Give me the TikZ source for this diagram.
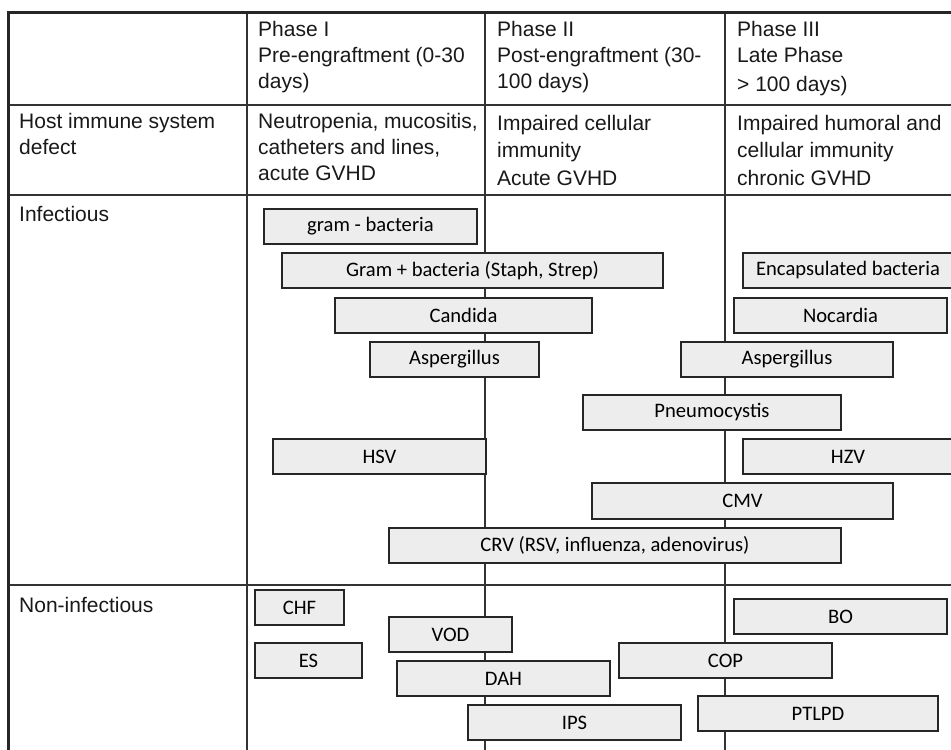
\documentclass[tikz,border=0pt]{standalone}
\usepackage{fontspec}
\setmainfont{Liberation Sans}
\newfontfamily\boxfont{Carlito}
\begin{document}
\begin{tikzpicture}[x=1pt,y=-1pt,
  grid/.style={line width=1.6pt,draw=black!80},
  frame/.style={line width=3pt,draw=black!85},
  cell/.style={anchor=base west,inner sep=0pt,font=\fontsize{21}{24}\selectfont,text=black!90},
  bar/.style={draw=black!85,line width=1.2pt,fill=black!7},
  bartext/.style={inner sep=0pt,font=\boxfont\fontsize{20.6}{23}\selectfont,text=black}]
\useasboundingbox (0,0) rectangle (951,750);
\fill[white] (0,0) rectangle (951,750);
% grid lines
\draw[grid] (8,105) -- (951,105);
\draw[grid] (8,195) -- (951,195);
\draw[grid] (8,585) -- (951,585);
\draw[grid] (247,12) -- (247,750);
\draw[grid] (485,12) -- (485,750);
\draw[grid] (725,12) -- (725,750);
\draw[frame] (8,752) -- (8,12) -- (953,12);
% header texts
\node[cell] (h1a) at (258,36) {Phase I};
\node[cell] (h1b) at (258,62) {Pre-engraftment (0-30};
\node[cell] (h1c) at (258,88) {days)};
\node[cell] (h2a) at (497,36) {Phase II};
\node[cell] (h2b) at (497,62) {Post-engraftment (30-};
\node[cell] (h2c) at (497,88) {100 days)};
\node[cell] (h3a) at (737,36) {Phase III};
\node[cell] (h3b) at (737,62) {Late Phase};
\node[cell] (h3c) at (737,91) {> 100 days)};
% row 2
\node[cell] (r2a) at (19,128) {Host immune system};
\node[cell] (r2b) at (19,154) {defect};
\node[cell] (c1a) at (258,128) {Neutropenia, mucositis,};
\node[cell] (c1b) at (258,154) {catheters and lines,};
\node[cell] (c1c) at (258,180) {acute GVHD};
\node[cell] (c2a) at (497,130) {Impaired cellular};
\node[cell] (c2b) at (497,157) {immunity};
\node[cell] (c2c) at (497,185) {Acute GVHD};
\node[cell] (c3a) at (737,130) {Impaired humoral and};
\node[cell] (c3b) at (737,157) {cellular immunity};
\node[cell] (c3c) at (737,185) {chronic GVHD};
\node[cell] (inf) at (19,221) {Infectious};
\node[cell] (ninf) at (19,612) {Non-infectious};
% bars
\newcommand{\bbar}[6]{%
  \draw[bar] (#2,#3) rectangle (#4,#5);
  \node[bartext] (#1) at ({(#2+#4)/2},{(#3+#5)/2}) {#6};}
\bbar{gneg}{264}{209}{477}{244}{gram - bacteria}
\bbar{gpos}{282}{253}{663}{288}{Gram + bacteria (Staph, Strep)}
\bbar{encap}{743}{253}{953}{288}{Encapsulated bacteria}
\bbar{cand}{335}{298}{592}{333}{Candida}
\bbar{noc}{734}{298}{947}{333}{Nocardia}
\bbar{asp1}{370}{342}{539}{377}{Aspergillus}
\bbar{asp2}{681}{342}{893}{377}{Aspergillus}
\bbar{pneu}{583}{395}{841}{430}{Pneumocystis}
\bbar{hsv}{273}{439}{486}{474}{HSV}
\bbar{hzv}{743}{439}{953}{474}{HZV}
\bbar{cmv}{592}{483}{893}{519}{CMV}
\bbar{crv}{389}{528}{841}{563}{CRV (RSV, influenza, adenovirus)}
\bbar{chf}{255}{590}{344}{625}{CHF}
\bbar{bo}{734}{599}{947}{634}{BO}
\bbar{vod}{389}{617}{512}{652}{VOD}
\bbar{es}{255}{643}{362}{678}{ES}
\bbar{cop}{619}{643}{832}{678}{COP}
\bbar{dah}{397}{661}{610}{696}{DAH}
\bbar{ptlpd}{698}{696}{938}{731}{PTLPD}
\bbar{ips}{468}{705}{681}{740}{IPS}
\end{tikzpicture}
\end{document}
